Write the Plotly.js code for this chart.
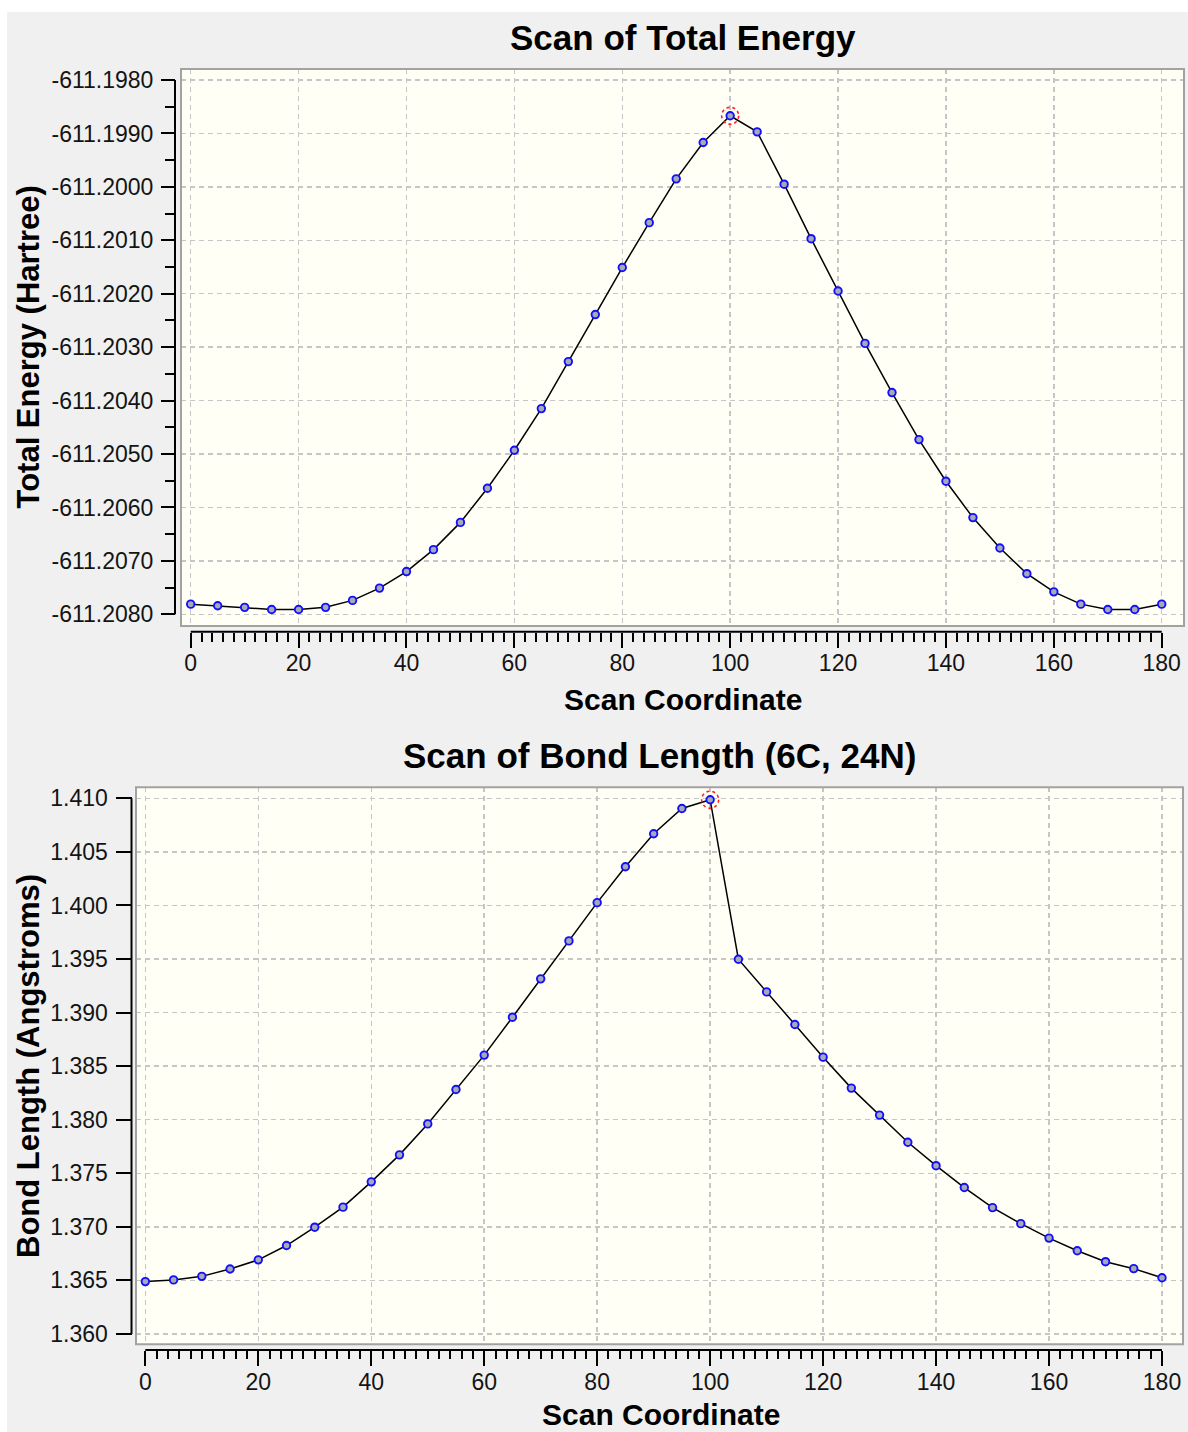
<!DOCTYPE html>
<html>
<head>
<meta charset="utf-8">
<script src="https://cdn.plot.ly/plotly-3.0.1.min.js"></script>
<style>
html,body{margin:0;padding:0;background:#ffffff;}
#chart{width:1188px;height:1432px;}
</style>
</head>
<body>
<div id="chart"></div>
<script>
// ---------- data ----------
const scanCoordinate = [0,5,10,15,20,25,30,35,40,45,50,55,60,65,70,75,80,85,90,95,100,105,110,115,120,125,130,135,140,145,150,155,160,165,170,175,180];

const totalEnergy = [
  -611.20781,-611.20784,-611.20787,-611.20791,-611.20791,-611.20787,-611.20774,-611.20751,-611.20720,-611.20679,
  -611.20628,-611.20564,-611.20493,-611.20415,-611.20327,-611.20239,-611.20151,-611.20067,-611.19985,-611.19917,
  -611.19867,-611.19897,-611.19995,-611.20097,-611.20195,-611.20293,-611.20385,-611.20473,-611.20551,-611.20619,
  -611.20676,-611.20724,-611.20758,-611.20781,-611.20791,-611.20791,-611.20781];

const bondLength = [
  1.36489,1.36505,1.36538,1.36607,1.36692,1.36826,1.36997,1.37184,1.37420,1.37672,
  1.37961,1.38282,1.38603,1.38957,1.39315,1.39669,1.40026,1.40361,1.40669,1.40905,
  1.40987,1.39498,1.39193,1.38889,1.38584,1.38295,1.38043,1.37790,1.37571,1.37367,
  1.37180,1.37030,1.36895,1.36777,1.36675,1.36610,1.36525];

const xTickVals = [0,20,40,60,80,100,120,140,160,180];
const xTickText = ['0','20','40','60','80','100','120','140','160','180'];
const energyTickVals = [-611.198,-611.199,-611.200,-611.201,-611.202,-611.203,-611.204,-611.205,-611.206,-611.207,-611.208];
const energyTickText = ['-611.1980','-611.1990','-611.2000','-611.2010','-611.2020','-611.2030','-611.2040','-611.2050','-611.2060','-611.2070','-611.2080'];
const bondTickVals = [1.410,1.405,1.400,1.395,1.390,1.385,1.380,1.375,1.370,1.365,1.360];
const bondTickText = ['1.410','1.405','1.400','1.395','1.390','1.385','1.380','1.375','1.370','1.365','1.360'];

const chartTitles = ['Scan of Total Energy','Scan of Bond Length (6C, 24N)'];
const xTitle = 'Scan Coordinate';
const yTitles = ['Total Energy (Hartree)','Bond Length (Angstroms)'];

// ---------- layout helpers ----------
const W = 1188, H = 1432;
const px = v => v / W;
const py = v => 1 - v / H;
const FONT = 'Liberation Sans, Arial, sans-serif';

// minor ticks on x every 2 units between majors
const xMinor = [];
for (let v = xTickVals[0]; v <= xTickVals[xTickVals.length-1]; v += 2) {
  if (!xTickVals.includes(v)) xMinor.push(v);
}
const energyMinor = [];
for (let i = 0; i < energyTickVals.length - 1; i++) {
  energyMinor.push((energyTickVals[i] + energyTickVals[i+1]) / 2);
}

function argMax(a){ let k=0; for(let i=1;i<a.length;i++) if(a[i]>a[k]) k=i; return k; }
const peakE = argMax(totalEnergy);
const peakB = argMax(bondLength);

const markerStyle = {symbol:'circle', size:7.5, color:'#a9a9b6', line:{color:'#1010ff', width:1.9}};
const lineStyle = {color:'#000000', width:1.5};

const traces = [
  {x: scanCoordinate, y: totalEnergy, xaxis:'x', yaxis:'y', type:'scatter', mode:'lines+markers',
   line: lineStyle, marker: markerStyle, hoverinfo:'x+y', showlegend:false},
  {x: scanCoordinate, y: bondLength, xaxis:'x2', yaxis:'y2', type:'scatter', mode:'lines+markers',
   line: lineStyle, marker: markerStyle, hoverinfo:'x+y', showlegend:false}
];

const tickFont = {family: FONT, size: 23, color: '#141414'};
const gridCommon = {showgrid:true, gridcolor:'#c6c6c6', gridwidth:1.5, griddash:'5px,4px', zeroline:false, showline:false};

function xAxis(domain, range, pos, minorLen){
  return Object.assign({
    domain: domain, range: range, anchor:'free', position: pos, side:'bottom',
    ticks:'outside', ticklen:15, tickwidth:2, tickcolor:'#000',
    tickmode:'array', tickvals: xTickVals, ticktext: xTickText, tickfont: tickFont,
    ticklabelstandoff: -4,
    minor: {tickmode:'array', tickvals: xMinor, ticks:'outside', ticklen: minorLen, tickwidth:2, tickcolor:'#000', showgrid:false},
    fixedrange:true
  }, gridCommon);
}
function yAxis(domain, range, pos, vals, text, len, minorVals){
  const ax = Object.assign({
    domain: domain, range: range, anchor:'free', position: pos, side:'left',
    ticks:'outside', ticklen:len, tickwidth:2, tickcolor:'#000',
    tickmode:'array', tickvals: vals, ticktext: text, tickfont: tickFont,
    ticklabelstandoff: 3,
    fixedrange:true
  }, gridCommon);
  if (minorVals) ax.minor = {tickmode:'array', tickvals: minorVals, ticks:'outside', ticklen:10, tickwidth:2, tickcolor:'#000', showgrid:false};
  return ax;
}

const layout = {
  width: W, height: H,
  margin: {l:0, r:0, t:0, b:0, pad:0},
  paper_bgcolor: '#f0f0f0',
  plot_bgcolor: '#fffff5',
  showlegend: false,
  xaxis:  xAxis([px(181), px(1184)], [-1.8, 184.13], py(631.7), 9),
  yaxis:  yAxis([py(626), py(69)], [-611.208219, -611.197794], px(175), energyTickVals, energyTickText, 14, energyMinor),
  xaxis2: xAxis([px(136), px(1183)], [-1.65, 183.72], py(1350), 8),
  yaxis2: yAxis([py(1344.3), py(787.3)], [1.359039, 1.411027], px(131.5), bondTickVals, bondTickText, 16, null),
  shapes: [
    // white outer strips
    {type:'rect', xref:'paper', yref:'paper', x0:0, x1:px(7), y0:0, y1:1, fillcolor:'#ffffff', line:{width:0}, layer:'below'},
    {type:'rect', xref:'paper', yref:'paper', x0:0, x1:1, y0:py(12), y1:1, fillcolor:'#ffffff', line:{width:0}, layer:'below'},
    // plot frames
    {type:'rect', xref:'x domain', yref:'y domain', x0:0, x1:1, y0:0, y1:1, line:{color:'#a2a2a2', width:2}, layer:'above'},
    {type:'rect', xref:'x2 domain', yref:'y2 domain', x0:0, x1:1, y0:0, y1:1, line:{color:'#a2a2a2', width:2}, layer:'above'},
    // detached axis lines
    {type:'line', xref:'paper', yref:'y', x0:px(175), x1:px(175), y0:energyTickVals[0], y1:energyTickVals[energyTickVals.length-1], line:{color:'#000', width:2}},
    {type:'line', xref:'x', yref:'paper', x0:xTickVals[0], x1:xTickVals[xTickVals.length-1], y0:py(631.7), y1:py(631.7), line:{color:'#000', width:2}},
    {type:'line', xref:'paper', yref:'y2', x0:px(131.5), x1:px(131.5), y0:bondTickVals[0], y1:bondTickVals[bondTickVals.length-1], line:{color:'#000', width:2}},
    {type:'line', xref:'x2', yref:'paper', x0:xTickVals[0], x1:xTickVals[xTickVals.length-1], y0:py(1350), y1:py(1350), line:{color:'#000', width:2}},
    // red highlight circles on the selected (peak) point
    {type:'circle', xref:'x', yref:'y', xsizemode:'pixel', ysizemode:'pixel',
     xanchor: scanCoordinate[peakE], yanchor: totalEnergy[peakE], x0:-8.5, x1:8.5, y0:-8.5, y1:8.5,
     line:{color:'#ff2020', width:1.6, dash:'dot'}, layer:'above'},
    {type:'circle', xref:'x2', yref:'y2', xsizemode:'pixel', ysizemode:'pixel',
     xanchor: scanCoordinate[peakB], yanchor: bondLength[peakB], x0:-8.5, x1:8.5, y0:-8.5, y1:8.5,
     line:{color:'#ff2020', width:1.6, dash:'dot'}, layer:'above'}
  ],
  annotations: [
    {text: chartTitles[0], xref:'paper', yref:'paper', x: px(682.5), y: py(37), xanchor:'center', yanchor:'middle', showarrow:false,
     font:{family:FONT, size:35, weight:'bold', color:'#000'}},
    {text: chartTitles[1], xref:'paper', yref:'paper', x: px(659.5), y: py(755), xanchor:'center', yanchor:'middle', showarrow:false,
     font:{family:FONT, size:35, weight:'bold', color:'#000'}},
    {text: xTitle, xref:'paper', yref:'paper', x: px(682.5), y: py(699), xanchor:'center', yanchor:'middle', showarrow:false,
     font:{family:FONT, size:30, weight:'bold', color:'#000'}},
    {text: xTitle, xref:'paper', yref:'paper', x: px(661), y: py(1414), xanchor:'center', yanchor:'middle', showarrow:false,
     font:{family:FONT, size:30, weight:'bold', color:'#000'}},
    {text: yTitles[0], xref:'paper', yref:'paper', x: px(28), y: py(347.5), xanchor:'center', yanchor:'middle', textangle:-90, showarrow:false,
     font:{family:FONT, size:31, weight:'bold', color:'#000'}},
    {text: yTitles[1], xref:'paper', yref:'paper', x: px(28), y: py(1066), xanchor:'center', yanchor:'middle', textangle:-90, showarrow:false,
     font:{family:FONT, size:31, weight:'bold', color:'#000'}}
  ]
};

Plotly.newPlot('chart', traces, layout, {displayModeBar:false, staticPlot:true});
</script>
</body>
</html>
